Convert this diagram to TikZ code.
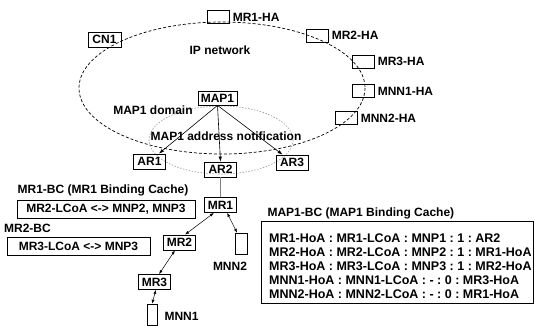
\documentclass[tikz,border=0pt]{standalone}
\usepackage{fontspec}
\setmainfont{Liberation Sans}
\usetikzlibrary{arrows.meta}

\tikzset{
  box/.style={draw,line width=0.8pt,inner sep=1pt,minimum width=32pt,minimum height=15pt},
  habox/.style={draw,line width=0.6pt,inner sep=0pt,minimum width=22pt,minimum height=13pt},
  hostbox/.style={draw,line width=0.6pt,inner sep=0pt,minimum width=11pt,minimum height=21pt},
  cachebox/.style={draw,line width=0.8pt,inner sep=0pt,minimum height=18pt},
  push/.style={-{Latex[length=5pt,width=3.5pt]},line width=0.6pt},
  link/.style={{Latex[length=4pt,width=3pt]}-{Latex[length=4pt,width=3pt]},line width=0.5pt}
}

\begin{document}
\frenchspacing
\begin{tikzpicture}[x=1pt,y=-1pt,font=\fontsize{12}{14}\selectfont\bfseries]

\useasboundingbox (0,0) rectangle (535,325);

\draw[dash pattern=on 3pt off 2pt,line width=0.7pt] (222,88) ellipse [x radius=143, y radius=66];
\draw[gray!80,dash pattern=on 1.5pt off 1.5pt,line width=0.6pt] (221,140) ellipse [x radius=72, y radius=34];

\node[habox,label=right:MR1-HA] (mr1ha) at (218,17) {};
\node[habox,label=right:MR2-HA] (mr2ha) at (317,35.5) {};
\node[habox,label=right:MR3-HA] (mr3ha) at (363,61.5) {};
\node[habox,label=right:MNN1-HA] (mnn1ha) at (363,91) {};
\node[habox,label=right:MNN2-HA] (mnn2ha) at (346,118) {};

\node[box,minimum width=33pt] (cn1) at (104.5,39.5) {CN1};
\node (ipnet) at (220,50) {IP network};

\node[box,minimum width=39pt,minimum height=14pt] (map1) at (217.5,98) {MAP1};
\node (domain) at (153,110) {MAP1 domain};
\node (notify) at (226,136) {MAP1 address notification};

\node[box] (ar1) at (149.5,161.5) {AR1};
\node[box] (ar2) at (220.5,169.5) {AR2};
\node[box] (ar3) at (292,162.5) {AR3};

\draw[push] (map1.south) -- (ar1.40);
\draw[push] (map1.south) -- (ar2.north);
\draw[push] (map1.south) -- (ar3.140);

\node[box] (mr1) at (220.5,205) {MR1};
\node[box] (mr2) at (179.5,242.5) {MR2};
\node[box] (mr3) at (154.5,282) {MR3};
\node[hostbox,minimum width=12pt] (mnn2) at (241,243.5) {};
\node (mnn2txt) at (230,266) {MNN2};
\node[hostbox,minimum width=10pt] (mnn1) at (152,314.5) {};
\node[anchor=west] (mnn1txt) at (161,316) {MNN1};

\draw[gray,line width=1.4pt] (ar2) -- (mr1);
\draw[link] (mr1.230) -- (mr2.55);
\draw[link] (mr1.310) -- (mnn2.110);
\draw[link] (mr2.240) -- (mr3.60);
\draw[link] (mr3.280) -- (mnn1.north);

\node (mr1bc) at (103,190) {MR1-BC (MR1 Binding Cache)};
\node[cachebox,minimum width=178pt] (mr1bcbox) at (106,209) {MR2-LCoA <-> MNP2, MNP3};
\node (mr2bc) at (27.5,228) {MR2-BC};
\node[cachebox,minimum width=143pt] (mr2bcbox) at (78.5,246) {MR3-LCoA <-> MNP3};

\node[anchor=west] (map1bc) at (264,213) {MAP1-BC (MAP1 Binding Cache)};
\node[draw,line width=0.8pt,anchor=north west,minimum width=272pt,minimum height=82pt] (map1bcbox) at (261,221) {};
\node[anchor=north west,align=left,inner sep=0pt,font=\fontsize{12.5}{14}\selectfont\bfseries] (map1bclist) at (269,233.5)
  {MR1-HoA : MR1-LCoA : MNP1 : 1 : AR2\\
   MR2-HoA : MR2-LCoA : MNP2 : 1 : MR1-HoA\\
   MR3-HoA : MR3-LCoA : MNP3 : 1 : MR2-HoA\\
   MNN1-HoA : MNN1-LCoA : - : 0 : MR3-HoA\\
   MNN2-HoA : MNN2-LCoA : - : 0 : MR1-HoA};

\end{tikzpicture}
\end{document}
